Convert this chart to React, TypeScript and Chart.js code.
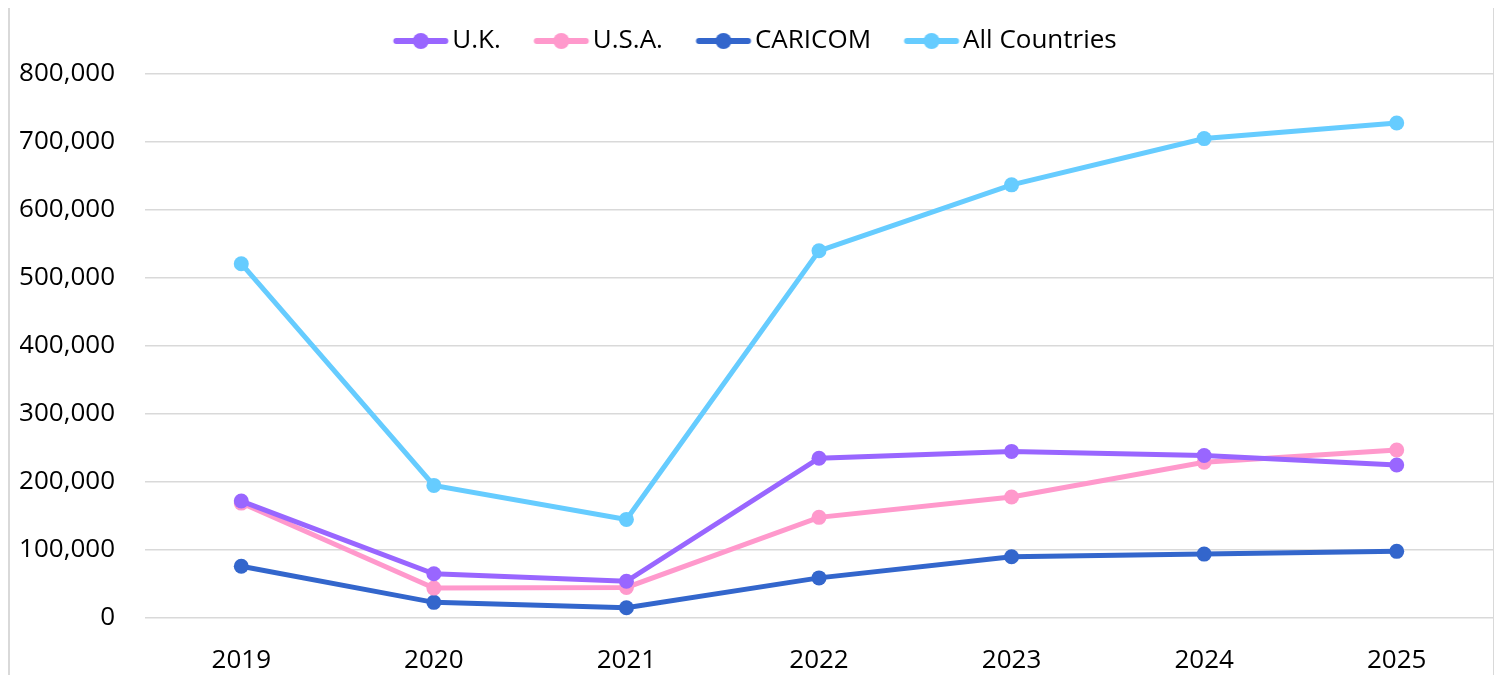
import React, { useEffect, useRef } from "react";
import { Chart, registerables } from "chart.js";

Chart.register(...registerables);

const years = ["2019", "2020", "2021", "2022", "2023", "2024", "2025"];
const ukValues = [172000, 65000, 54000, 235000, 245000, 239000, 225000];
const usaValues = [169000, 44000, 45000, 148000, 178000, 229000, 247000];
const caricomValues = [76000, 23000, 15000, 59000, 90000, 94000, 98000];
const allValues = [521000, 195000, 145000, 540000, 637000, 705000, 728000];
const yTicks = [0, 100000, 200000, 300000, 400000, 500000, 600000, 700000, 800000];

const seriesNames = ["U.K.", "U.S.A.", "CARICOM", "All Countries"];
const seriesColors = ["#9966FF", "#FF99CC", "#3366CC", "#66CCFF"];

const FONT = "'Open Sans', 'Noto Sans', sans-serif";

if (typeof document !== "undefined") {
  document.documentElement.style.overflow = "hidden";
}

function legendIcon(color: string): HTMLCanvasElement {
  const c = document.createElement("canvas");
  c.width = 90;
  c.height = 18;
  const g = c.getContext("2d")!;
  g.strokeStyle = color;
  g.lineWidth = 6;
  g.lineCap = "round";
  g.beginPath();
  g.moveTo(36.5, 9);
  g.lineTo(85.5, 9);
  g.stroke();
  g.fillStyle = color;
  g.beginPath();
  g.arc(61, 9, 8, 0, Math.PI * 2);
  g.fill();
  return c;
}

const legendSpacer = {
  id: "legendSpacer",
  afterInit(chart: any) {
    const legend = chart.legend;
    if (!legend) return;
    const fit = legend.fit;
    legend.fit = function () {
      fit.call(legend);
      legend.height += 10;
    };
  },
  afterLayout(chart: any) {
    const legend = chart.legend;
    if (!legend) return;
    legend.left -= 13;
    legend.right -= 13;
  },
};

export default function App() {
  const ref = useRef<HTMLCanvasElement | null>(null);

  useEffect(() => {
    if (!ref.current) return;
    const data = [ukValues, usaValues, caricomValues, allValues];
    const icons = seriesColors.map((c) => legendIcon(c));
    const chart = new Chart(ref.current, {
      type: "line",
      data: {
        labels: years,
        datasets: seriesNames.map((name, i) => ({
          label: name,
          data: data[i],
          borderColor: seriesColors[i],
          backgroundColor: seriesColors[i],
          borderWidth: 5,
          pointRadius: 7.5,
          pointHoverRadius: 7.5,
          pointBackgroundColor: seriesColors[i],
          pointBorderWidth: 0,
          pointStyle: "circle",
          tension: 0,
          clip: false as any,
        })),
      },
      plugins: [legendSpacer],
      options: {
        animation: false,
        responsive: false,
        maintainAspectRatio: false,
        layout: { autoPadding: false, padding: { top: 10, left: 10, right: 0, bottom: 0 } },
        plugins: {
          tooltip: { enabled: false },
          legend: {
            position: "top",
            labels: {
              usePointStyle: true,
              pointStyleWidth: 69,
              padding: 10,
              color: "#000",
              font: { family: FONT, size: 26 },
              generateLabels: () =>
                seriesNames.map((n, i) => ({
                  text: n,
                  pointStyle: icons[i] as any,
                  fillStyle: seriesColors[i],
                  strokeStyle: seriesColors[i],
                  lineWidth: 0,
                  hidden: false,
                  datasetIndex: i,
                })),
            },
          },
        },
        scales: {
          x: {
            offset: true,
            grid: { display: false, drawTicks: false },
            border: { display: false },
            afterFit: (s: any) => {
              s.height = 57;
              s.paddingLeft = 0;
              s.paddingRight = 0;
            },
            ticks: { color: "#000", font: { family: FONT, size: 26 }, padding: 27 },
          },
          y: {
            min: 0,
            max: 800000,
            afterBuildTicks: (axis: any) => {
              axis.ticks = yTicks.map((v) => ({ value: v }));
            },
            afterFit: (s: any) => {
              s.width = 125;
            },
            grid: { color: "#d9d9d9", lineWidth: 1.5, drawTicks: false },
            border: { display: false },
            ticks: {
              color: "#000",
              padding: 30,
              font: { family: FONT, size: 26 },
              callback: (v: any) => Number(v).toLocaleString("en-US"),
            },
          },
        },
      },
    });
    return () => chart.destroy();
  }, []);

  return (
    <div
      style={{
        width: 1487,
        height: 667,
        borderLeft: "2px solid #d9d9d9",
        borderRight: "2px solid #d9d9d9",
        boxSizing: "border-box",
        background: "#fff",
        overflow: "hidden",
      }}
    >
      <canvas ref={ref} width={1483} height={667} style={{ display: "block" }} />
    </div>
  );
}
